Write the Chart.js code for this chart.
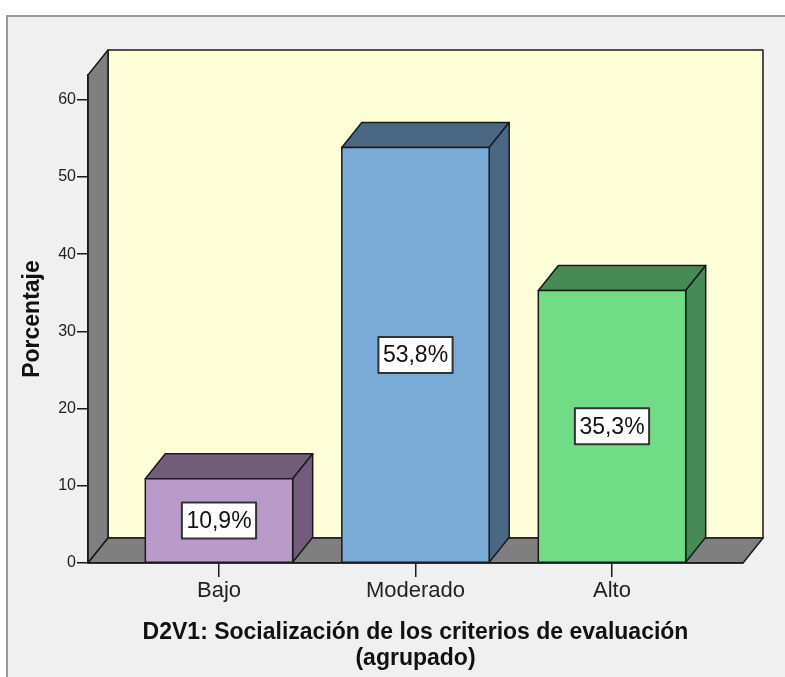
<!DOCTYPE html>
<html>
<head>
<meta charset="utf-8">
<script src="https://cdn.jsdelivr.net/npm/chart.js@4"></script>
<style>
  html, body { margin: 0; padding: 0; background: #ffffff; }
  canvas { display: block; }
</style>
</head>
<body>
<canvas id="chart" width="785" height="677"></canvas>
<script>
// --- DATOS ---
const categories = ['Bajo', 'Moderado', 'Alto'];
const percentages = [10.9, 53.8, 35.3];
const yMax = 63.2;
const yStep = 10;

// --- ESTILO ---
const frontColors = ['#b99ac9', '#7aaad6', '#70dc85'];
const sideColors = ['#735c79', '#4a6883', '#468b55'];
const DX = 20, DY = 25; // profundidad 3D
const FONT = '"Liberation Sans", Arial, sans-serif';

const poly = (ctx, pts, fill) => {
  ctx.beginPath();
  ctx.moveTo(pts[0][0], pts[0][1]);
  for (let i = 1; i < pts.length; i++) ctx.lineTo(pts[i][0], pts[i][1]);
  ctx.closePath();
  ctx.fillStyle = fill;
  ctx.fill();
  ctx.stroke();
};

// fondo, paredes y barras en 3D
const box3d = {
  id: 'box3d',
  beforeDraw(chart) {
    const { ctx, chartArea: a, width, height } = chart;
    ctx.save();
    ctx.fillStyle = '#ffffff';
    ctx.fillRect(0, 0, width, height);
    ctx.fillStyle = '#f0f0f0';
    ctx.fillRect(7, 16, width, height);
    ctx.strokeStyle = '#9a9a9a';
    ctx.lineWidth = 2;
    ctx.beginPath();
    ctx.moveTo(7, height);
    ctx.lineTo(7, 16);
    ctx.lineTo(width, 16);
    ctx.stroke();

    ctx.strokeStyle = '#1a1a1a';
    ctx.lineWidth = 1.5;
    ctx.lineJoin = 'round';
    poly(ctx, [[a.left + DX, a.top - DY], [a.right + DX, a.top - DY], [a.right + DX, a.bottom - DY], [a.left + DX, a.bottom - DY]], '#fefed9');
    poly(ctx, [[a.left, a.top], [a.left + DX, a.top - DY], [a.left + DX, a.bottom - DY], [a.left, a.bottom]], '#7f7f7f');
    poly(ctx, [[a.left, a.bottom], [a.left + DX, a.bottom - DY], [a.right + DX, a.bottom - DY], [a.right, a.bottom]], '#7f7f7f');
    ctx.restore();
  },
  afterDatasetsDraw(chart) {
    const { ctx } = chart;
    const meta = chart.getDatasetMeta(0);
    ctx.save();
    ctx.strokeStyle = '#1a1a1a';
    ctx.lineWidth = 1.5;
    ctx.lineJoin = 'round';
    meta.data.forEach((bar, i) => {
      const half = bar.width / 2;
      const l = bar.x - half, r = bar.x + half, t = bar.y, b = bar.base;
      poly(ctx, [[l, t], [l + DX, t - DY], [r + DX, t - DY], [r, t]], sideColors[i]);
      poly(ctx, [[r, t], [r + DX, t - DY], [r + DX, b - DY], [r, b]], sideColors[i]);
      poly(ctx, [[l, t], [r, t], [r, b], [l, b]], frontColors[i]);

      // etiqueta con el porcentaje
      const text = percentages[i].toFixed(1).replace('.', ',') + '%';
      ctx.font = '23px ' + FONT;
      const w = ctx.measureText(text).width + 9;
      const h = 36;
      const cy = (t + b) / 2;
      ctx.fillStyle = '#ffffff';
      ctx.strokeStyle = '#333333';
      ctx.lineWidth = 2;
      ctx.fillRect(bar.x - w / 2, cy - h / 2, w, h);
      ctx.strokeRect(bar.x - w / 2, cy - h / 2, w, h);
      ctx.fillStyle = '#111111';
      ctx.textAlign = 'center';
      ctx.textBaseline = 'middle';
      ctx.fillText(text, bar.x, cy + 1);
      ctx.strokeStyle = '#1a1a1a';
      ctx.lineWidth = 1.5;
    });
    ctx.restore();
  }
};

new Chart(document.getElementById('chart'), {
  type: 'bar',
  data: {
    datasets: [{
      data: percentages.map((v, i) => ({ x: i, y: v })),
      backgroundColor: 'rgba(0,0,0,0)',
      borderWidth: 0,
      barPercentage: 0.75,
      categoryPercentage: 1
    }]
  },
  options: {
    responsive: false,
    animation: false,
    layout: { padding: { top: 75, right: 42, left: 0, bottom: 0 } },
    plugins: { legend: { display: false }, tooltip: { enabled: false } },
    scales: {
      x: {
        type: 'linear',
        min: -2 / 3,
        max: 8 / 3,
        offset: false,
        afterBuildTicks: (axis) => { axis.ticks = categories.map((c, i) => ({ value: i })); },
        afterFit: (axis) => { axis.height = 114; },
        grid: { drawOnChartArea: false, offset: false, tickLength: 14, color: '#1a1a1a', lineWidth: 1.5 },
        border: { color: '#1a1a1a', width: 1.5 },
        ticks: {
          callback: (v) => categories[v],
          maxRotation: 0,
          autoSkip: false,
          padding: 1,
          color: '#222222',
          font: { family: FONT, size: 22 }
        },
        title: {
          display: true,
          text: ['D2V1: Socialización de los criterios de evaluación', '(agrupado)'],
          color: '#111111',
          padding: { top: 0, bottom: 5 },
          font: { family: FONT, size: 23, weight: 'bold', lineHeight: 1.13 }
        }
      },
      y: {
        min: 0,
        max: yMax,
        afterFit: (axis) => { axis.width = 88; },
        grid: { drawOnChartArea: false, tickLength: 11, color: '#1a1a1a', lineWidth: 1.5 },
        border: { color: '#1a1a1a', width: 1.5 },
        ticks: {
          stepSize: yStep,
          includeBounds: false,
          padding: 1,
          color: '#222222',
          font: { family: FONT, size: 16 }
        },
        title: {
          display: true,
          text: 'Porcentaje',
          color: '#111111',
          padding: { top: 19, bottom: 0 },
          font: { family: FONT, size: 23, weight: 'bold' }
        }
      }
    }
  },
  plugins: [box3d]
});
</script>
</body>
</html>
